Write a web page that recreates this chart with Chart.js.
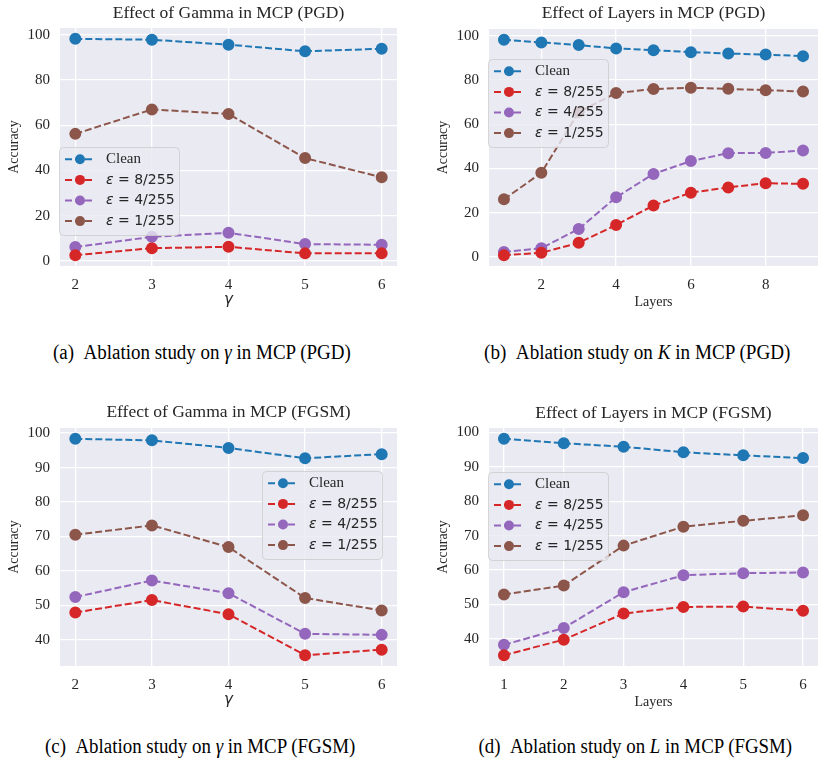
<!DOCTYPE html>
<html>
<head>
<meta charset="utf-8">
<script src="https://cdn.jsdelivr.net/npm/chart.js@4.4.0/dist/chart.umd.min.js"></script>
<style>
  body { margin: 0; background: #fff; width: 825px; height: 763px; position: relative; overflow: hidden; }
  .panel { position: absolute; }
  .caption {
    position: absolute; font-family: "Liberation Serif", serif; font-size: 20px; color: #000;
    white-space: nowrap; transform-origin: center center; text-align: center;
  }
  .caption i { font-style: italic; }
</style>
</head>
<body>
<div class="panel" style="left:0;top:0"><canvas id="gammaPgd" width="410" height="320"></canvas></div>
<div class="panel" style="left:410px;top:0"><canvas id="layersPgd" width="415" height="320"></canvas></div>
<div class="panel" style="left:0;top:400px"><canvas id="gammaFgsm" width="410" height="320"></canvas></div>
<div class="panel" style="left:410px;top:400px"><canvas id="layersFgsm" width="415" height="320"></canvas></div>

<div class="caption" data-w="298" style="left:202px;top:341px">(a)&nbsp;&nbsp;Ablation study on <i>γ</i> in MCP (PGD)</div>
<div class="caption" data-w="306" style="left:637px;top:341px">(b)&nbsp;&nbsp;Ablation study on <i>K</i> in MCP (PGD)</div>
<div class="caption" data-w="310" style="left:200px;top:735px">(c)&nbsp;&nbsp;Ablation study on <i>γ</i> in MCP (FGSM)</div>
<div class="caption" data-w="314" style="left:635px;top:735px">(d)&nbsp;&nbsp;Ablation study on <i>L</i> in MCP (FGSM)</div>

<script>
// x values
const gammaValues = [2, 3, 4, 5, 6];
const pgdLayers = [1, 2, 3, 4, 5, 6, 7, 8, 9];
const fgsmLayers = [1, 2, 3, 4, 5, 6];

const seriesLabels = ['Clean', 'ε = 8/255', 'ε = 4/255', 'ε = 1/255'];
const seriesColors = ['#1f77b4', '#d62728', '#9467bd', '#8c564b'];

// accuracy vs gamma, PGD
const gammaPgdClean = [98.2, 97.8, 95.6, 92.7, 93.8];
const gammaPgdEps8 = [2.6, 5.7, 6.3, 3.4, 3.4];
const gammaPgdEps4 = [6.2, 10.7, 12.5, 7.5, 7.2];
const gammaPgdEps1 = [56.2, 67.0, 65.0, 45.5, 37.0];

// accuracy vs layers, PGD
const layersPgdClean = [98.2, 97.0, 95.8, 94.3, 93.5, 92.6, 92.0, 91.5, 90.8];
const layersPgdEps8 = [0.7, 1.8, 6.3, 14.4, 23.2, 29.0, 31.4, 33.3, 33.0];
const layersPgdEps4 = [2.2, 3.9, 12.6, 26.9, 37.5, 43.3, 46.9, 47.0, 48.1];
const layersPgdEps1 = [26.0, 38.0, 65.5, 74.1, 75.9, 76.5, 76.0, 75.4, 74.8];

// accuracy vs gamma, FGSM
const gammaFgsmClean = [98.35, 97.9, 95.7, 92.7, 93.9];
const gammaFgsmEps8 = [47.9, 51.5, 47.4, 35.5, 37.1];
const gammaFgsmEps4 = [52.4, 57.2, 53.5, 41.7, 41.4];
const gammaFgsmEps1 = [70.5, 73.2, 66.9, 52.1, 48.5];

// accuracy vs layers, FGSM
const layersFgsmClean = [98.1, 96.8, 95.8, 94.2, 93.3, 92.5];
const layersFgsmEps8 = [35.3, 39.8, 47.4, 49.3, 49.4, 48.2];
const layersFgsmEps4 = [38.3, 43.2, 53.6, 58.5, 59.1, 59.3];
const layersFgsmEps1 = [52.9, 55.5, 67.1, 72.6, 74.3, 75.9];

const textColor = '#262626';
const serif = '"Liberation Serif", "Times New Roman", serif';
const sans = '"DejaVu Sans", sans-serif';

// 5% margin on each side, like matplotlib autoscaling
function padded(values) {
    const lo = Math.min(...values), hi = Math.max(...values);
    const m = (hi - lo) * 0.05;
    return [lo - m, hi + m];
}

// grey plot background
const plotBackground = {
    id: 'plotBackground',
    beforeDraw(chart) {
        const {ctx, chartArea: a} = chart;
        ctx.save();
        ctx.fillStyle = '#eaeaf2';
        ctx.fillRect(a.left, a.top, a.right - a.left, a.bottom - a.top);
        ctx.restore();
    }
};

// legend box drawn inside the plot
const insetLegend = {
    id: 'insetLegend',
    afterDraw(chart, args, opts) {
        const ctx = chart.ctx;
        const x0 = opts.x, y0 = opts.y;
        ctx.save();
        ctx.beginPath();
        ctx.roundRect(x0 + 0.5, y0 + 0.5, 120, 88, 4);
        ctx.fillStyle = 'rgba(234, 234, 242, 0.8)';
        ctx.fill();
        ctx.strokeStyle = 'rgba(204, 204, 204, 0.8)';
        ctx.lineWidth = 1;
        ctx.stroke();

        chart.data.datasets.forEach((ds, i) => {
            const cy = y0 + 12.3 + i * 20.6;
            ctx.strokeStyle = ds.borderColor;
            ctx.lineWidth = 2;
            ctx.setLineDash([7, 3]);
            ctx.beginPath();
            ctx.moveTo(x0 + 6, cy);
            ctx.lineTo(x0 + 36, cy);
            ctx.stroke();
            ctx.setLineDash([]);
            ctx.fillStyle = ds.borderColor;
            ctx.beginPath();
            ctx.arc(x0 + 21, cy, 5, 0, Math.PI * 2);
            ctx.fill();

            ctx.fillStyle = textColor;
            ctx.textBaseline = 'middle';
            ctx.textAlign = 'left';
            let tx = x0 + 47;
            if (ds.label.startsWith('ε')) {
                ctx.font = 'italic 14px ' + sans;
                ctx.fillText('ε', tx, cy);
                tx += ctx.measureText('ε').width;
                ctx.font = '14px ' + sans;
                ctx.fillText(ds.label.slice(1), tx, cy);
            } else {
                ctx.font = '15px ' + serif;
                ctx.fillText(ds.label, tx, cy);
            }
        });
        ctx.restore();
    }
};

function makePanel(id, p) {
    const yRange = padded(p.series.flat());
    const xRange = padded(p.xs);
    const datasets = p.series.map((vals, i) => ({
        label: seriesLabels[i],
        data: vals.map((v, j) => ({x: p.xs[j], y: v})),
        borderColor: seriesColors[i],
        backgroundColor: seriesColors[i],
        pointBackgroundColor: seriesColors[i],
        pointBorderColor: seriesColors[i],
        borderWidth: 2,
        borderDash: [7, 3],
        pointRadius: 5,
        pointHoverRadius: 5,
        tension: 0
    }));

    new Chart(document.getElementById(id), {
        type: 'line',
        data: {datasets: datasets},
        options: {
            responsive: false,
            animation: false,
            events: [],
            layout: {padding: {left: 0, right: p.padRight, top: 0, bottom: 0}},
            plugins: {
                legend: {display: false},
                tooltip: {enabled: false},
                title: {
                    display: true,
                    text: p.title,
                    fullSize: false,
                    color: textColor,
                    font: {family: serif, size: 17.5, weight: 'normal'},
                    padding: {top: p.titleTop, bottom: p.titleBottom}
                },
                insetLegend: p.legend
            },
            scales: {
                x: {
                    type: 'linear',
                    min: xRange[0],
                    max: xRange[1],
                    afterFit: s => { s.height = 54; },
                    border: {display: false},
                    grid: {color: '#ffffff', lineWidth: 1.3, drawTicks: false},
                    ticks: {
                        stepSize: p.xStep,
                        includeBounds: false,
                        padding: 10,
                        color: textColor,
                        font: {family: serif, size: 15}
                    },
                    title: {
                        display: true,
                        text: p.xTitle,
                        color: textColor,
                        font: p.xTitle === 'γ'
                            ? {family: sans, size: 15, style: 'italic'}
                            : {family: serif, size: 14},
                        padding: {top: 0, bottom: p.xTitle === 'γ' ? 10.5 : 9.6}
                    }
                },
                y: {
                    min: yRange[0],
                    max: yRange[1],
                    afterFit: s => { s.width = p.leftWidth; },
                    border: {display: false},
                    grid: {color: '#ffffff', lineWidth: 1.3, drawTicks: false},
                    ticks: {
                        stepSize: p.yStep,
                        includeBounds: false,
                        padding: 10,
                        color: textColor,
                        font: {family: serif, size: 15}
                    },
                    title: {
                        display: true,
                        text: 'Accuracy',
                        color: textColor,
                        font: {family: serif, size: 14},
                        padding: {top: p.yTitlePad, bottom: 0}
                    }
                }
            }
        },
        plugins: [plotBackground, insetLegend]
    });
}

makePanel('gammaPgd', {
    title: 'Effect of Gamma in MCP (PGD)', xTitle: 'γ',
    xs: gammaValues,
    series: [gammaPgdClean, gammaPgdEps8, gammaPgdEps4, gammaPgdEps1],
    xStep: 1, yStep: 20,
    leftWidth: 60, padRight: 13, yTitlePad: 5.6,
    titleTop: 2.5, titleBottom: 4.5,
    legend: {x: 59, y: 147}
});

makePanel('layersPgd', {
    title: 'Effect of Layers in MCP (PGD)', xTitle: 'Layers',
    xs: pgdLayers,
    series: [layersPgdClean, layersPgdEps8, layersPgdEps4, layersPgdEps1],
    xStep: 2, yStep: 20,
    leftWidth: 79, padRight: 0, yTitlePad: 24.6,
    titleTop: 2.8, titleBottom: 5.2,
    legend: {x: 78, y: 59}
});

makePanel('gammaFgsm', {
    title: 'Effect of Gamma in MCP (FGSM)', xTitle: 'γ',
    xs: gammaValues,
    series: [gammaFgsmClean, gammaFgsmEps8, gammaFgsmEps4, gammaFgsmEps1],
    xStep: 1, yStep: 10,
    leftWidth: 60, padRight: 13, yTitlePad: 5.6,
    titleTop: 1.8, titleBottom: 5.2,
    legend: {x: 262, y: 71}
});

makePanel('layersFgsm', {
    title: 'Effect of Layers in MCP (FGSM)', xTitle: 'Layers',
    xs: fgsmLayers,
    series: [layersFgsmClean, layersFgsmEps8, layersFgsmEps4, layersFgsmEps1],
    xStep: 1, yStep: 10,
    leftWidth: 79, padRight: 0, yTitlePad: 24.6,
    titleTop: 2.8, titleBottom: 4.2,
    legend: {x: 78, y: 72}
});

// captions: centre on the given x and squeeze to the given width
document.querySelectorAll('.caption').forEach(el => {
    const w = el.offsetWidth;
    const target = +el.dataset.w;
    el.style.marginLeft = (-w / 2) + 'px';
    el.style.transform = 'scaleX(' + (target / w) + ')';
});
</script>
</body>
</html>
